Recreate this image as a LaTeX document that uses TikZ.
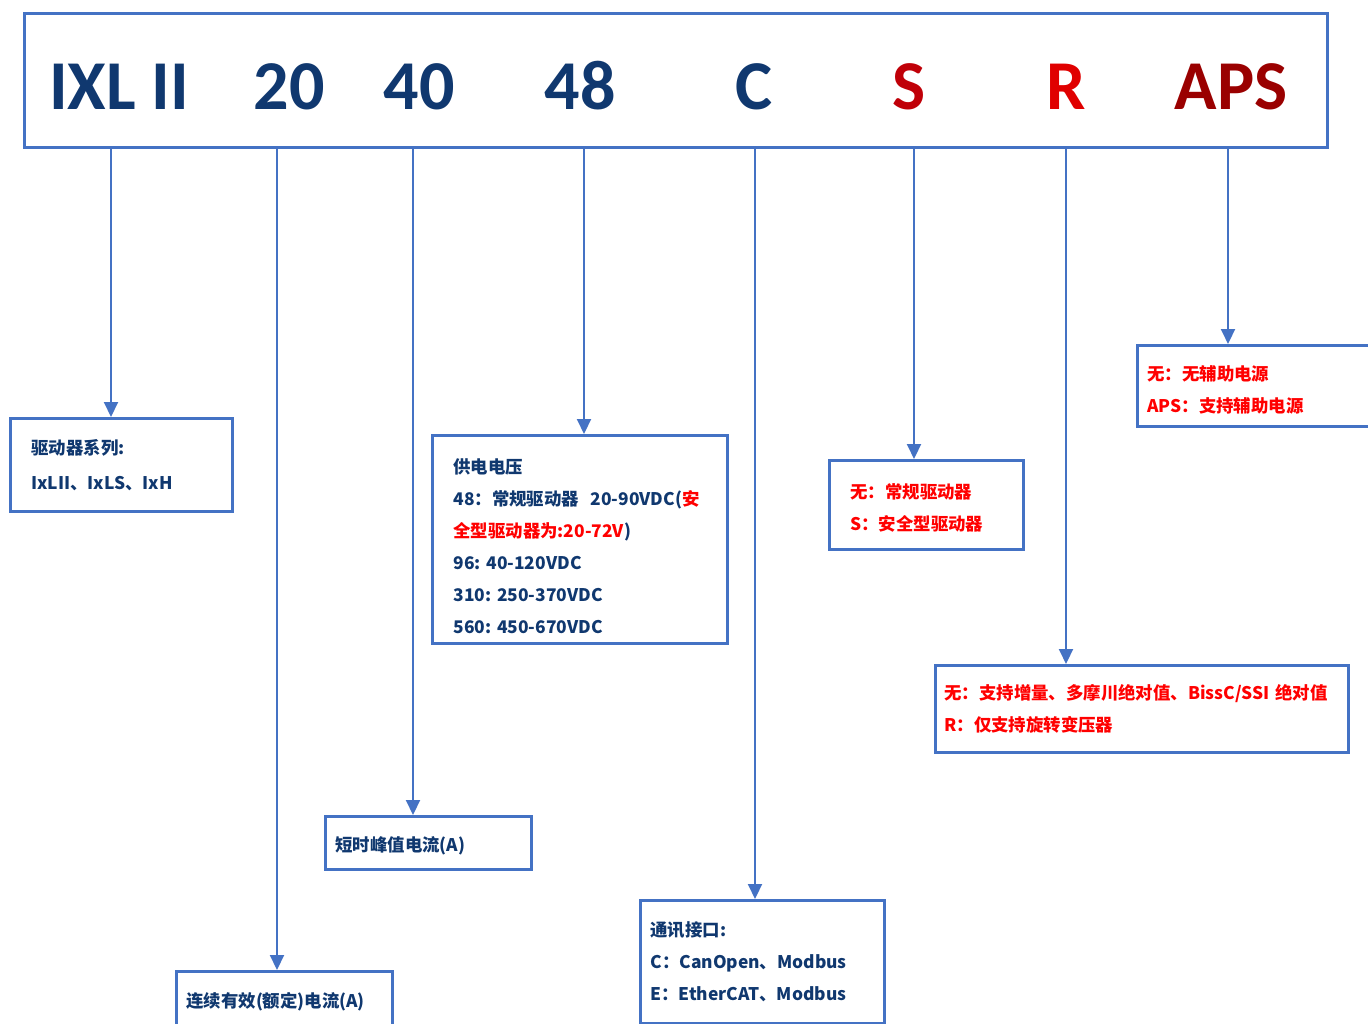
\documentclass[tikz,border=0pt]{standalone}
\usepackage{fontspec}
\setmainfont{Noto Sans CJK SC}
\newfontfamily\hdfont{Carlito}
\usepackage{tikz}
\usetikzlibrary{positioning}
\usetikzlibrary{arrows.meta}
\usepackage{xcolor}
\definecolor{lineblue}{HTML}{4472C4}
\definecolor{navy}{HTML}{10386F}
\definecolor{hdred}{HTML}{E00000}
\definecolor{hdsred}{HTML}{C00008}
\definecolor{hddark}{HTML}{9A0000}
\definecolor{txtred}{HTML}{FF0000}
% first line with extra room above it
\newcommand{\padline}[2]{\setbox0\hbox{#2}\rule{0pt}{\dimexpr\ht0+#1\relax}#2}

\begin{document}
\begin{tikzpicture}[x=0.5pt,y=-0.5pt,
  token/.style={anchor=base, inner sep=0, font=\hdfont\bfseries\fontsize{35}{40}\selectfont},
  infobox/.style={draw=lineblue, line width=1.4pt, anchor=north west, align=left, inner ysep=0, text=navy, font=\bfseries\fontsize{8.7}{16}\selectfont},
  arr/.style={draw=lineblue, line width=1pt, -{Triangle[width=7pt,length=7.5pt]}}]

\useasboundingbox (0,0) rectangle (1368,1023);

%%%%%%%%%%%%    model code   %%%%%%%%%%%%
\node[draw=lineblue, line width=1.4pt, minimum width=651.5pt, minimum height=67pt, anchor=north west, inner sep=0] (code) at (23,12) {};

\node[token, text=navy] (tIXL) at (119,109) {IXL II};
\node[token, text=navy] (tcont) at (289,109) {20};
\node[token, text=navy] (tpeak) at (419,109) {40};
\node[token, text=navy] (tvolt) at (580,109) {48};
\node[token, text=navy] (tcomm) at (754,109) {C};
\node[token, text=hdsred] (tsafe) at (909,109) {S};
\node[token, text=hdred] (tenc) at (1066,109) {R};
\node[token, text=hddark] (taps) at (1231,109) {APS};

% stems on the code box
\coordinate (pIXL) at (111,146);
\coordinate (pcont) at (277,146);
\coordinate (ppeak) at (413,146);
\coordinate (pvolt) at (584,146);
\coordinate (pcomm) at (755,146);
\coordinate (psafe) at (914,146);
\coordinate (penc) at (1066,146);
\coordinate (paps) at (1228,146);

%%%%%%%%%%%%    explanation boxes   %%%%%%%%%%%%
\node[infobox, font=\bfseries\fontsize{8.7}{17.5}\selectfont, inner xsep=10.5pt, text width=90pt, minimum height=46.5pt] (bseries) at (9,417)
  {驱动器系列:\\IxLII、IxLS、IxH};

\node[infobox, inner xsep=5pt, text width=98pt, minimum height=30pt] (bcont) at (175,970)
  {连续有效(额定)电流(A)};

\node[infobox, inner xsep=5pt, text width=93pt, minimum height=26.5pt] (bpeak) at (324,815)
  {\padline{3pt}{短时峰值电流(A)}};

\node[infobox, inner xsep=10.5pt, text width=126.5pt, minimum height=104pt] (bvolt) at (431,434)
  {\padline{7pt}{供电电压}\\
   48：常规驱动器~~20-90VDC(\textcolor{txtred}{安}\\
   \textcolor{txtred}{全型驱动器为:20-72V})\\
   96:~40-120VDC\\
   310:~250-370VDC\\
   560:~450-670VDC};

\node[infobox, inner xsep=5pt, text width=112pt, minimum height=61.5pt] (bcomm) at (639,899)
  {通讯接口:\\
   C：CanOpen、Modbus\\
   E：EtherCAT、Modbus};

\node[infobox, text=txtred, inner xsep=10.5pt, text width=76pt, minimum height=44.5pt] (bsafe) at (828,459)
  {\padline{3pt}{无：常规驱动器}\\S：安全型驱动器};

\node[infobox, text=txtred, inner xsep=4.5pt, text width=197.5pt, minimum height=43.5pt] (benc) at (934,664)
  {无：支持增量、多摩川绝对值、BissC/SSI~绝对值\\R：仅支持旋转变压器};

\node[infobox, text=txtred, inner xsep=5pt, text width=120pt, minimum height=40.5pt] (baps) at (1136,344)
  {\padline{4pt}{无：无辅助电源}\\APS：支持辅助电源};

%%%%%%%%%%%%    arrows   %%%%%%%%%%%%
\draw[arr] (pIXL) -- (bseries.north -| pIXL);
\draw[arr] (pcont) -- (bcont.north -| pcont);
\draw[arr] (ppeak) -- (bpeak.north -| ppeak);
\draw[arr] (pvolt) -- (bvolt.north -| pvolt);
\draw[arr] (pcomm) -- (bcomm.north -| pcomm);
\draw[arr] (psafe) -- (bsafe.north -| psafe);
\draw[arr] (penc) -- (benc.north -| penc);
\draw[arr] (paps) -- (baps.north -| paps);

\end{tikzpicture}
\end{document}
